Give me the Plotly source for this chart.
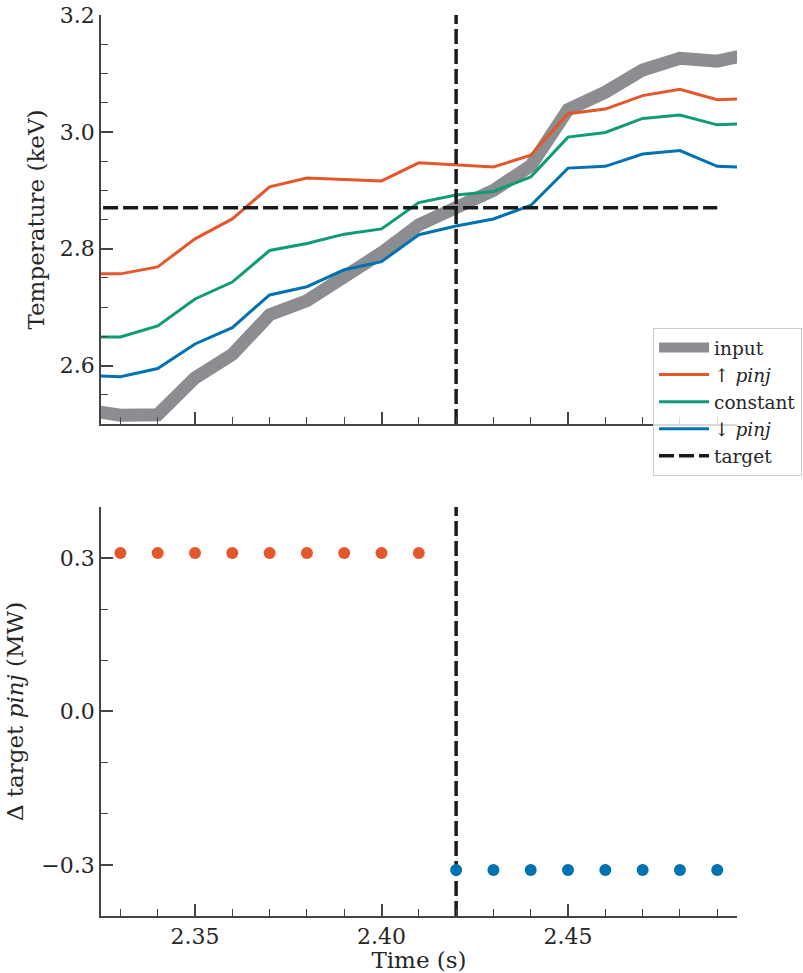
import plotly.graph_objects as go

# ---------------- data ----------------
time = [2.32, 2.33, 2.34, 2.35, 2.36, 2.37, 2.38, 2.39, 2.40, 2.41,
        2.42, 2.43, 2.44, 2.45, 2.46, 2.47, 2.48, 2.49, 2.50]
temp_input = [2.525, 2.515, 2.516, 2.579, 2.619, 2.687, 2.711, 2.752, 2.793, 2.841,
              2.872, 2.900, 2.942, 3.038, 3.068, 3.106, 3.126, 3.121, 3.135]
temp_up = [2.757, 2.757, 2.769, 2.817, 2.851, 2.906, 2.921, 2.919, 2.916, 2.947,
           2.944, 2.940, 2.960, 3.031, 3.039, 3.062, 3.073, 3.055, 3.057]
temp_const = [2.649, 2.649, 2.668, 2.714, 2.743, 2.797, 2.809, 2.825, 2.834, 2.879,
              2.892, 2.898, 2.923, 2.991, 2.999, 3.023, 3.029, 3.012, 3.015]
temp_down = [2.583, 2.581, 2.595, 2.637, 2.665, 2.721, 2.735, 2.764, 2.778, 2.824,
             2.839, 2.851, 2.874, 2.938, 2.941, 2.962, 2.968, 2.941, 2.939]

target_temp = 2.87
target_time_span = [2.32, 2.49]
target_time = 2.42

up_times = [2.33, 2.34, 2.35, 2.36, 2.37, 2.38, 2.39, 2.40, 2.41]
up_delta = [0.31] * 9
down_times = [2.42, 2.43, 2.44, 2.45, 2.46, 2.47, 2.48, 2.49]
down_delta = [-0.31] * 8

top_range = [2.5, 3.2]
bottom_range = [-0.4, 0.4]
x_range = [2.3248, 2.4953]

# ---------------- styles ----------------
GRAY = "#8c8d91"
ORANGE = "#e4562b"
GREEN = "#0f9b76"
BLUE = "#0072b2"
AXIS = "#444444"
FONT = "DejaVu Serif"
DASH = "15px,5px"

fig = go.Figure()

fig.add_trace(go.Scatter(x=time, y=temp_input, mode="lines", name="input",
                         line=dict(color=GRAY, width=13), legendgroup="a",
                         xaxis="x", yaxis="y"))
fig.add_trace(go.Scatter(x=time, y=temp_up, mode="lines", name="↑ <i>pinj</i>",
                         line=dict(color=ORANGE, width=3), legendgroup="b",
                         xaxis="x", yaxis="y"))
fig.add_trace(go.Scatter(x=time, y=temp_const, mode="lines", name="constant",
                         line=dict(color=GREEN, width=3), legendgroup="c",
                         xaxis="x", yaxis="y"))
fig.add_trace(go.Scatter(x=time, y=temp_down, mode="lines", name="↓ <i>pinj</i>",
                         line=dict(color=BLUE, width=3), legendgroup="d",
                         xaxis="x", yaxis="y"))
fig.add_trace(go.Scatter(x=target_time_span, y=[target_temp, target_temp], mode="lines",
                         name="target", line=dict(color="#1a1a1a", width=3.5, dash=DASH),
                         legendgroup="e", xaxis="x", yaxis="y"))
# vertical target-time lines
fig.add_trace(go.Scatter(x=[target_time, target_time], y=top_range, mode="lines",
                         showlegend=False, line=dict(color="#1a1a1a", width=3.5, dash=DASH),
                         xaxis="x", yaxis="y"))
fig.add_trace(go.Scatter(x=[target_time, target_time], y=bottom_range, mode="lines",
                         showlegend=False, line=dict(color="#1a1a1a", width=3.5, dash=DASH),
                         xaxis="x2", yaxis="y2"))

# bottom panel dots
fig.add_trace(go.Scatter(x=up_times, y=up_delta, mode="markers", showlegend=False,
                         marker=dict(color=ORANGE, size=12), xaxis="x2", yaxis="y2"))
fig.add_trace(go.Scatter(x=down_times, y=down_delta, mode="markers", showlegend=False,
                         marker=dict(color=BLUE, size=12), xaxis="x2", yaxis="y2"))

axis_common = dict(showline=True, linecolor=AXIS, linewidth=1.8, ticks="inside",
                   ticklen=12, tickwidth=1.6, tickcolor=AXIS, showgrid=False,
                   zeroline=False, ticklabeloverflow="allow",
                   tickfont=dict(family=FONT, size=22, color="#262626"))
TITLE_FONT = dict(family=FONT, size=23, color="#262626")

fig.update_layout(
    width=803, height=973,
    margin=dict(l=101, r=66, t=15, b=57, autoexpand=False),
    plot_bgcolor="white", paper_bgcolor="white",
    font=dict(family=FONT, size=22, color="#262626"),
    xaxis=dict(domain=[0, 1], range=x_range, anchor="y", showticklabels=False,
               dtick=0.05, tick0=2.35,
               minor=dict(dtick=0.01, tick0=2.33, ticks="inside", ticklen=7,
                          tickwidth=1.4, tickcolor=AXIS),
               **axis_common),
    yaxis=dict(domain=[0.546, 1], range=top_range, anchor="x", dtick=0.2, tick0=2.6,
               tickformat=".1f",
               minor=dict(dtick=0.05, ticks="inside", ticklen=7, tickwidth=1.4,
                          tickcolor=AXIS),
               title=dict(text="Temperature (keV)", font=TITLE_FONT, standoff=9),
               **axis_common),
    xaxis2=dict(domain=[0, 1], range=x_range, anchor="y2", dtick=0.05, tick0=2.35,
                tickformat=".2f",
                minor=dict(dtick=0.01, tick0=2.33, ticks="inside", ticklen=7,
                           tickwidth=1.4, tickcolor=AXIS),
                title=dict(text="Time (s)", font=TITLE_FONT, standoff=0),
                **axis_common),
    yaxis2=dict(domain=[0, 0.454], range=bottom_range, anchor="x2", dtick=0.3,
                tick0=0, tickformat=".1f",
                minor=dict(dtick=0.1, ticks="inside", ticklen=7, tickwidth=1.4,
                           tickcolor=AXIS),
                title=dict(text="Δ target <i>pinj</i> (MW)", font=TITLE_FONT,
                           standoff=11),
                **axis_common),
    legend=dict(x=0.868, y=0.6526, xanchor="left", yanchor="top",
                bgcolor="rgba(255,255,255,0.8)", bordercolor="#cccccc", borderwidth=1,
                font=dict(family=FONT, size=18.5, color="#262626"),
                itemwidth=50, tracegroupgap=9, traceorder="normal"),
)

# remove the default page margin so the figure fills the window exactly
fig.write_html("out.html",
               config={"displayModeBar": False},
               post_script="document.body.style.margin='0';"
                           "document.body.style.overflow='hidden';")
